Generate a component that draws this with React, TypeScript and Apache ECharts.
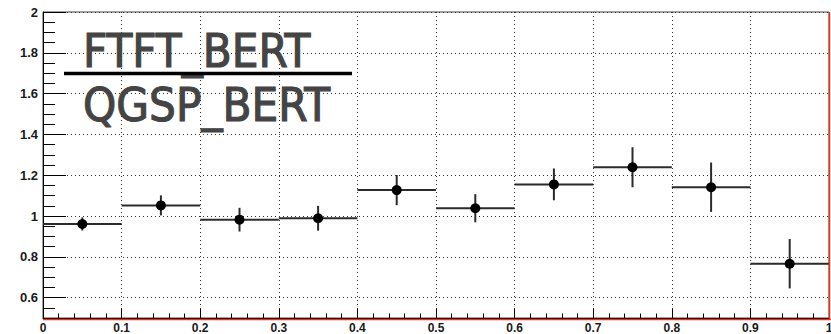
import React, { useEffect, useRef } from "react";
import * as echarts from "echarts";

// Ratio histogram: FTFT_BERT / QGSP_BERT per bin, with statistical errors
const binCenters = [0.05, 0.15, 0.25, 0.35, 0.45, 0.55, 0.65, 0.75, 0.85, 0.95];
const binHalfWidth = 0.05;
const ratioValues = [0.961, 1.052, 0.982, 0.989, 1.127, 1.038, 1.155, 1.239, 1.141, 0.766];
const ratioErrors = [0.032, 0.049, 0.058, 0.061, 0.074, 0.069, 0.078, 0.098, 0.121, 0.121];
const yMajorTicks = [0.6, 0.8, 1.0, 1.2, 1.4, 1.6, 1.8, 2.0];
const numeratorLabel = "FTFT_BERT";
const denominatorLabel = "QGSP_BERT";

const W = 831;
const H = 334;
const G = { left: 43, right: 2, top: 12, bottom: 16 };
const X_MIN = 0, X_MAX = 1;
const Y_MIN = 0.5, Y_MAX = 2;

const fmt = (v: number) => String(Number(v.toFixed(2)));

const labelFont = {
  fontFamily: "Liberation Sans, Arial, sans-serif",
  fontWeight: "bold" as const,
  fontSize: 13,
  color: "#1a1a1a",
};

const titleStyle = {
  fill: "#444",
  stroke: "#444",
  lineWidth: 1.1,
  font: '47px "DejaVu Sans Condensed", "DejaVu Sans", sans-serif',
  verticalAlign: "middle",
  align: "left",
};

export default function App() {
  const ref = useRef<HTMLDivElement>(null);

  useEffect(() => {
    document.body.style.margin = "0";
    if (!ref.current) return;
    const chart = echarts.init(ref.current, null, { renderer: "svg" });

    const gridBase = {
      left: G.left,
      right: G.right,
      top: G.top,
      bottom: G.bottom,
      outerBoundsMode: "none",
    };

    const plotRight = W - G.right;
    const plotBottom = H - G.bottom;

    chart.setOption({
      animation: false,
      backgroundColor: "#fff",
      grid: [
        { ...gridBase, show: true, borderColor: "#444", borderWidth: 1, backgroundColor: "transparent" },
        { ...gridBase, show: false },
      ],
      xAxis: [
        {
          type: "value",
          gridIndex: 0,
          min: X_MIN,
          max: X_MAX,
          interval: 0.1,
          axisLine: { show: true, onZero: false, lineStyle: { color: "#000", width: 1 } },
          axisTick: { show: true, inside: true, length: 9, lineStyle: { color: "#000", width: 1 } },
          minorTick: { show: true, splitNumber: 5, length: 4.5, lineStyle: { color: "#000", width: 1 } },
          axisLabel: {
            ...labelFont,
            fontSize: 12,
            lineHeight: 12,
            margin: 4,
            formatter: (v: number) => fmt(v),
          },
          splitLine: { show: true, lineStyle: { color: "#333", width: 1, type: [1, 3] } },
        },
        {
          type: "value",
          gridIndex: 1,
          min: X_MIN,
          max: X_MAX,
          show: false,
        },
      ],
      yAxis: [
        {
          type: "value",
          gridIndex: 0,
          min: Y_MIN,
          max: Y_MAX,
          splitNumber: 7,
          axisLine: { show: true, onZero: false, lineStyle: { color: "#000", width: 1 } },
          axisTick: {
            show: true,
            inside: true,
            length: 23,
            customValues: yMajorTicks,
            lineStyle: { color: "#000", width: 1 },
          },
          axisLabel: {
            ...labelFont,
            margin: 5,
            customValues: yMajorTicks,
            formatter: (v: number) => (v < 0.55 ? "" : fmt(v)),
          },
          splitLine: { show: true, lineStyle: { color: "#333", width: 1, type: [1, 3] } },
        },
        {
          // minor ticks every 0.05
          type: "value",
          gridIndex: 1,
          min: Y_MIN,
          max: Y_MAX,
          interval: 0.05,
          axisLine: { show: false },
          axisTick: { show: true, inside: true, length: 12, lineStyle: { color: "#000", width: 1 } },
          axisLabel: { show: false },
          splitLine: { show: false },
        },
      ],
      series: [
        {
          type: "custom",
          xAxisIndex: 0,
          yAxisIndex: 0,
          encode: { x: 0, y: 1 },
          data: binCenters.map((x, i) => [x, ratioValues[i], ratioErrors[i]]),
          renderItem: (params: any, api: any) => {
            const xc = api.value(0);
            const y = api.value(1);
            const e = api.value(2);
            const l = api.coord([xc - binHalfWidth, y]);
            const r = api.coord([xc + binHalfWidth, y]);
            const t = api.coord([xc, y + e]);
            const b = api.coord([xc, y - e]);
            const c = api.coord([xc, y]);
            const style = { stroke: "#2b2b2b", lineWidth: 2 };
            return {
              type: "group",
              children: [
                { type: "line", shape: { x1: l[0], y1: l[1], x2: r[0], y2: r[1] }, style },
                { type: "line", shape: { x1: t[0], y1: t[1], x2: b[0], y2: b[1] }, style },
                { type: "circle", shape: { cx: c[0], cy: c[1], r: 5 }, style: { fill: "#000" } },
              ],
            };
          },
        },
      ],
      graphic: [
        {
          type: "line",
          shape: { x1: G.left, y1: plotBottom + 1.5, x2: W, y2: plotBottom + 1.5 },
          style: { stroke: "#e8321e", lineWidth: 1.5 },
          z: 100,
        },
        {
          type: "line",
          shape: { x1: plotRight + 0.5, y1: G.top, x2: plotRight + 0.5, y2: plotBottom + 2 },
          style: { stroke: "#e8321e", lineWidth: 1.5 },
          z: 100,
        },
        {
          type: "text",
          x: 83,
          y: 50,
          style: { ...titleStyle, text: numeratorLabel },
          z: 100,
        },
        {
          type: "line",
          shape: { x1: 64, y1: 73.5, x2: 352, y2: 73.5 },
          style: { stroke: "#000", lineWidth: 3.5 },
          z: 100,
        },
        {
          type: "text",
          x: 83,
          y: 104,
          style: { ...titleStyle, text: denominatorLabel },
          z: 100,
        },
      ],
    });

    return () => chart.dispose();
  }, []);

  return <div ref={ref} style={{ width: W, height: H }} />;
}
